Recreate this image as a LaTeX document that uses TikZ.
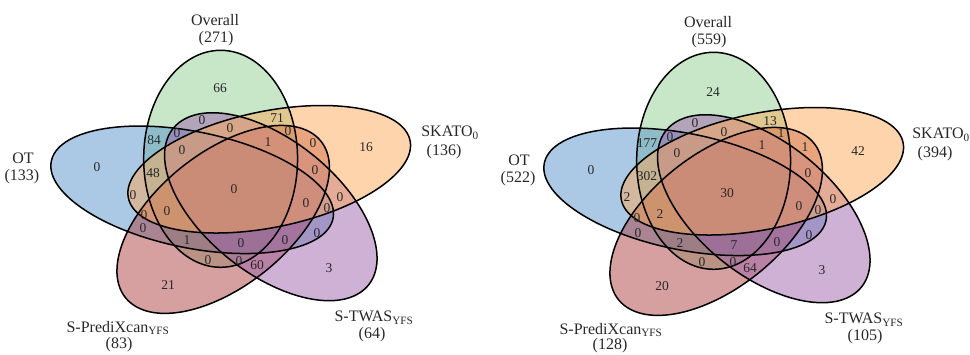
\documentclass[tikz,border=0pt]{standalone}
\usepackage{fontspec}
\setmainfont{Liberation Serif}
\definecolor{setGreen}{RGB}{145,205,145}
\definecolor{setBlue}{RGB}{87,147,203}
\definecolor{setRed}{RGB}{173,65,65}
\definecolor{setPurple}{RGB}{157,99,171}
\definecolor{setOrange}{RGB}{251,169,89}
\definecolor{numInk}{RGB}{40,40,40}
\tikzset{
  venn fill/.style={fill=#1, fill opacity=0.5},
  venn line/.style={draw=black, line width=1.5pt},
  count/.style={font=\fontsize{13.5}{14}\selectfont, text=numInk, inner sep=0pt},
  setlabel/.style={font=\fontsize{16}{18}\selectfont, text=numInk, inner sep=0pt},
}
% five congruent ellipses, turned in steps of 72 degrees about the centre (#1,#2)
\newcommand\vennpetals[2]{%
  \begin{scope}[shift={(#1,#2)}, xscale=1.35, yscale=-1]
    \foreach \k/\c in {0/setGreen,4/setBlue,3/setRed,2/setPurple,1/setOrange}
      \fill[venn fill=\c, rotate=72*\k] (-10.8,30) ellipse [x radius=57, y radius=108.5];
    \foreach \k in {0,...,4}
      \draw[venn line, rotate=72*\k] (-10.8,30) ellipse [x radius=57, y radius=108.5];
  \end{scope}}
\begin{document}
\begin{tikzpicture}[x=1pt,y=-1pt]
\useasboundingbox (0,0) rectangle (970,354);
\vennpetals{235.2}{188.8}
\vennpetals{728.2}{190.8}

% left diagram: set names
\node[setlabel] (lOv)  at (215,20)  {Overall};
\node[setlabel] (lOvN) at (216,39)  {(271)};
\node[setlabel] (lSk)  at (450,133) {SKATO\textsubscript{0}};
\node[setlabel] (lSkN) at (444,152) {(136)};
\node[setlabel] (lOt)  at (23,158)  {OT};
\node[setlabel] (lOtN) at (22,177)  {(133)};
\node[setlabel] (lPx)  at (118,328) {S-PrediXcan\textsubscript{YFS}};
\node[setlabel] (lPxN) at (119,345) {(83)};
\node[setlabel] (lTw)  at (374,318) {S-TWAS\textsubscript{YFS}};
\node[setlabel] (lTwN) at (372,335) {(64)};

% left diagram: region counts
\node[count] (l1)  at (220,88)  {66};
\node[count] (l2)  at (202,120) {0};
\node[count] (l3)  at (277,118) {71};
\node[count] (l4)  at (154,140) {84};
\node[count] (l5)  at (177,133) {0};
\node[count] (l6)  at (230,128) {0};
\node[count] (l7)  at (288,131) {0};
\node[count] (l8)  at (268,142) {1};
\node[count] (l9)  at (313,143) {0};
\node[count] (l10) at (366,147) {16};
\node[count] (l11) at (97,167)  {0};
\node[count] (l12) at (182,150) {0};
\node[count] (l13) at (153,173) {48};
\node[count] (l14) at (315,170) {0};
\node[count] (l15) at (234,189) {0};
\node[count] (l16) at (133,195) {0};
\node[count] (l17) at (306,203) {0};
\node[count] (l18) at (327,208) {0};
\node[count] (l19) at (340,197) {0};
\node[count] (l20) at (144,215) {0};
\node[count] (l21) at (167,211) {0};
\node[count] (l22) at (143,228) {0};
\node[count] (l23) at (187,240) {1};
\node[count] (l24) at (241,243) {0};
\node[count] (l25) at (285,240) {0};
\node[count] (l26) at (317,233) {0};
\node[count] (l27) at (208,260) {0};
\node[count] (l28) at (239,261) {0};
\node[count] (l29) at (257,265) {60};
\node[count] (l30) at (329,268) {3};
\node[count] (l31) at (168,285) {21};

% right diagram: set names
\node[setlabel] (rOv)  at (708,22)  {Overall};
\node[setlabel] (rOvN) at (709,41)  {(559)};
\node[setlabel] (rSk)  at (941,135) {SKATO\textsubscript{0}};
\node[setlabel] (rSkN) at (935,154) {(394)};
\node[setlabel] (rOt)  at (519,160) {OT};
\node[setlabel] (rOtN) at (518,179) {(522)};
\node[setlabel] (rPx)  at (611,330) {S-PrediXcan\textsubscript{YFS}};
\node[setlabel] (rPxN) at (610,346) {(128)};
\node[setlabel] (rTw)  at (864,320) {S-TWAS\textsubscript{YFS}};
\node[setlabel] (rTwN) at (865,337) {(105)};

% right diagram: region counts
\node[count] (r1)  at (713,92)  {24};
\node[count] (r2)  at (695,123) {0};
\node[count] (r3)  at (770,121) {13};
\node[count] (r4)  at (647,143) {177};
\node[count] (r5)  at (670,137) {0};
\node[count] (r6)  at (724,132) {0};
\node[count] (r7)  at (781,133) {1};
\node[count] (r8)  at (762,145) {1};
\node[count] (r9)  at (805,147) {1};
\node[count] (r10) at (858,151) {42};
\node[count] (r11) at (591,170) {0};
\node[count] (r12) at (677,153) {0};
\node[count] (r13) at (647,176) {302};
\node[count] (r14) at (808,173) {0};
\node[count] (r15) at (727,193) {30};
\node[count] (r16) at (627,197) {2};
\node[count] (r17) at (799,206) {0};
\node[count] (r18) at (818,210) {0};
\node[count] (r19) at (833,199) {0};
\node[count] (r20) at (637,218) {0};
\node[count] (r21) at (660,214) {2};
\node[count] (r22) at (638,233) {0};
\node[count] (r23) at (680,243) {2};
\node[count] (r24) at (734,245) {7};
\node[count] (r25) at (777,242) {0};
\node[count] (r26) at (809,235) {0};
\node[count] (r27) at (702,262) {0};
\node[count] (r28) at (733,262) {0};
\node[count] (r29) at (750,268) {64};
\node[count] (r30) at (822,270) {3};
\node[count] (r31) at (662,286) {20};
\end{tikzpicture}
\end{document}
